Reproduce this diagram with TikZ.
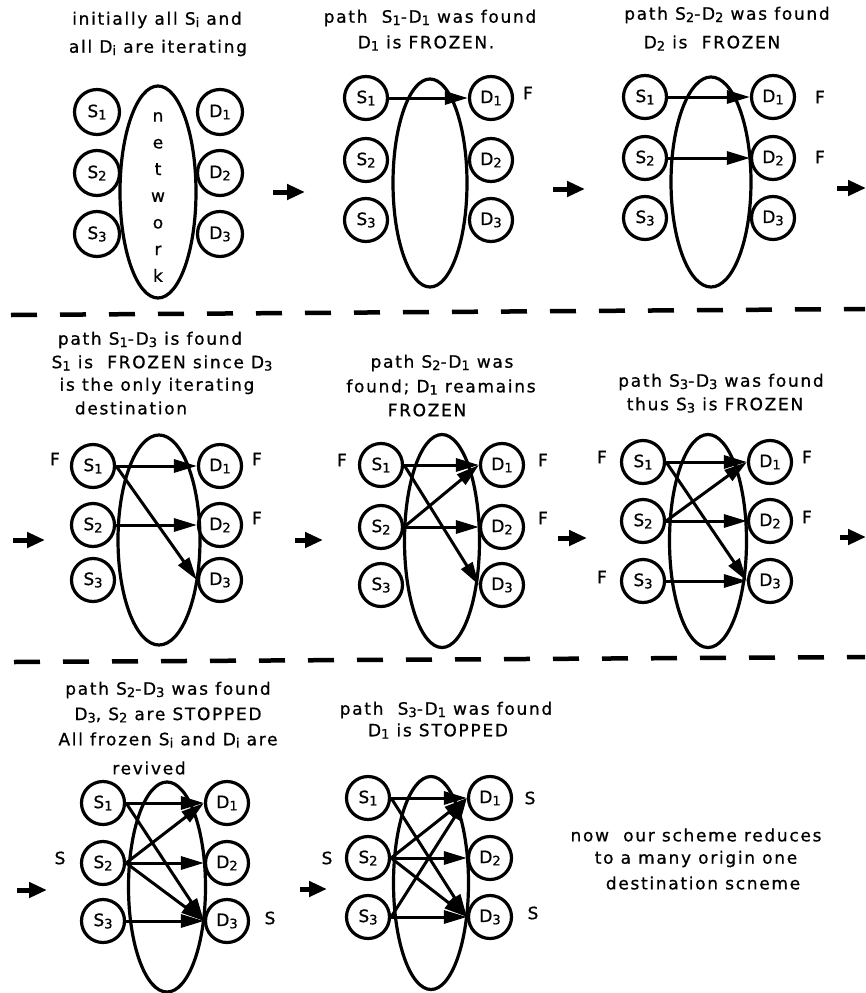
\documentclass[tikz,border=0pt]{standalone}
\usepackage{fontspec}
\setmainfont{DejaVu Sans}[LetterSpace=10,FakeBold=0.8]
\usetikzlibrary{arrows.meta,shapes.geometric}
\newcommand\ix[1]{\raisebox{-0.25ex}{\fontsize{13}{14}\selectfont #1}}
% prefix, S x, D x, row1, row2, row3, circle size
\newcommand\mkpanel[7]{%
 \node[sd,minimum size=#7] (#1S1) at (#2,#4) {S\ix{1}};
 \node[sd,minimum size=#7] (#1S2) at (#2,#5) {S\ix{2}};
 \node[sd,minimum size=#7] (#1S3) at (#2,#6) {S\ix{3}};
 \node[sd,minimum size=#7] (#1D1) at (#3,#4) {D\ix{1}};
 \node[sd,minimum size=#7] (#1D2) at (#3,#5) {D\ix{2}};
 \node[sd,minimum size=#7] (#1D3) at (#3,#6) {D\ix{3}};}
\tikzset{
 sd/.style={circle, draw, line width=3.2pt, inner sep=0pt},
 net/.style={ellipse, draw, line width=3.2pt, inner sep=0pt},
 lbl/.style={inner sep=0pt},
 arr/.style={line width=3pt, -{Triangle[length=23pt,width=13pt]}},
 link/.style={line width=5pt, -{Triangle[length=18pt,width=15pt]}},
 dashline/.style={line width=4.5pt, dash pattern=on 26pt off 23pt}
}
\begin{document}
\begin{tikzpicture}[x=1pt,y=-1pt, every node/.style={font=\fontsize{17}{20}\selectfont}]
\useasboundingbox (0,0) rectangle (865,993);

% ---------------- Panel 1
\node[lbl] (t1a) at (157,20) {initially all S\ix{i} and};
\node[lbl] (t1b) at (158,48) {all D\ix{i} are iterating};
\mkpanel{p1}{97}{220}{112}{173}{234}{45pt}
\node[net, minimum width=76pt, minimum height=212pt] (p1E) at (158,192) {};
\node[lbl, align=center, font=\fontsize{17}{26.7}\selectfont] (p1net) at (158,197) {n\\e\\t\\w\\o\\r\\k};

% ---------------- Panel 2
\node[lbl] (t2a) at (430,18) {path\ \ S\ix{1}-D\ix{1} was found};
\node[lbl] (t2b) at (426,43) {D\ix{1} is FROZEN.};
\mkpanel{p2}{366}{491}{98}{160}{220}{43pt}
\node[net, minimum width=74pt, minimum height=208pt] (p2E) at (430,183) {};
\node[lbl] (p2F1) at (528,93) {F};
\draw[arr] (p2S1.east) -- (p2D1.west);

% ---------------- Panel 3
\node[lbl] (t3a) at (727,15) {path S\ix{2}-D\ix{2} was found};
\node[lbl] (t3b) at (712,43) {D\ix{2} is\ \ FROZEN};
\mkpanel{p3}{645}{773}{97}{158}{218}{43pt}
\node[net, minimum width=80pt, minimum height=210pt] (p3E) at (711,182) {};
\node[lbl] (p3F1) at (820,97) {F};
\node[lbl] (p3F2) at (820,157) {F};
\draw[arr] (p3S1.east) -- (p3D1.west);
\draw[arr] (p3S2.east) -- (p3D2.west);

% ---------------- Panel 4
\node[lbl] (t4a) at (150,340) {path S\ix{1}-D\ix{3} is found};
\node[lbl] (t4b) at (162,363) {S\ix{1} is\ \ FROZEN since D\ix{3}};
\node[lbl] (t4c) at (157,386) {is the only iterating};
\node[lbl] (t4d) at (131,408) {destination};
\mkpanel{p4}{93}{220}{466}{525}{580}{43pt}
\node[net, minimum width=82pt, minimum height=210pt] (p4E) at (159,540) {};
\node[lbl] (p4F1) at (55,459) {F};
\node[lbl] (p4F2) at (257,459) {F};
\node[lbl] (p4F3) at (257,518) {F};
\draw[arr] (p4S1.east) -- (p4D1.west);
\draw[arr] (p4S1.east) -- (p4D3.west);
\draw[arr] (p4S2.east) -- (p4D2.west);

% ---------------- Panel 5
\node[lbl] (t5a) at (442,363) {path S\ix{2}-D\ix{1} was};
\node[lbl] (t5b) at (441,387) {found; D\ix{1} reamains};
\node[lbl] (t5c) at (427,410) {FROZEN};
\mkpanel{p5}{381}{502}{465}{527}{585}{43pt}
\node[net, minimum width=75pt, minimum height=213pt] (p5E) at (442,541) {};
\node[lbl] (p5F1) at (342,460) {F};
\node[lbl] (p5F2) at (543,460) {F};
\node[lbl] (p5F3) at (543,518) {F};
\draw[arr] (p5S1.east) -- (p5D1.west);
\draw[arr] (p5S2.east) -- (p5D1.west);
\draw[arr] (p5S1.east) -- (p5D3.west);
\draw[arr] (p5S2.east) -- (p5D2.west);

% ---------------- Panel 6
\node[lbl] (t6a) at (721,382) {path S\ix{3}-D\ix{3} was found};
\node[lbl] (t6b) at (715,405) {thus S\ix{3} is FROZEN};
\mkpanel{p6}{643}{770}{462}{521}{581}{43pt}
\node[net, minimum width=77pt, minimum height=213pt] (p6E) at (708,541) {};
\node[lbl] (p6F1) at (602,457) {F};
\node[lbl] (p6F2) at (807,457) {F};
\node[lbl] (p6F3) at (807,517) {F};
\node[lbl] (p6F4) at (602,577) {F};
\draw[arr] (p6S1.east) -- (p6D1.west);
\draw[arr] (p6S2.east) -- (p6D1.west);
\draw[arr] (p6S1.east) -- (p6D3.west);
\draw[arr] (p6S2.east) -- (p6D2.west);
\draw[arr] (p6S3.east) -- (p6D3.west);

% ---------------- Panel 7
\node[lbl] (t7a) at (168,690) {path S\ix{2}-D\ix{3} was found};
\node[lbl] (t7b) at (168,715) {D\ix{3}, S\ix{2} are STOPPED};
\node[lbl] (t7c) at (168,740) {All frozen S\ix{i} and D\ix{i} are};
\node[lbl] (t7d) at (149,768) {revived};
\mkpanel{p7}{103}{227}{803}{863}{921}{43pt}
\node[net, minimum width=77pt, minimum height=210pt] (p7E) at (167,887) {};
\node[lbl] (p7L1) at (60,858) {S};
\node[lbl] (p7L2) at (270,918) {S};
\draw[arr] (p7S1.east) -- (p7D1.west);
\draw[arr] (p7S2.east) -- (p7D1.west);
\draw[arr] (p7S1.east) -- (p7D3.west);
\draw[arr] (p7S2.east) -- (p7D2.west);
\draw[arr] (p7S2.east) -- (p7D3.west);
\draw[arr] (p7S3.east) -- (p7D3.west);

% ---------------- Panel 8
\node[lbl] (t8a) at (446,710) {path\ \ S\ix{3}-D\ix{1} was found};
\node[lbl] (t8b) at (438,731) {D\ix{1} is STOPPED};
\mkpanel{p8}{368}{490}{798}{858}{917}{43pt}
\node[net, minimum width=75pt, minimum height=213pt] (p8E) at (431,883) {};
\node[lbl] (p8L1) at (530,798) {S};
\node[lbl] (p8L2) at (327,858) {S};
\node[lbl] (p8L3) at (533,913) {S};
\draw[arr] (p8S1.east) -- (p8D1.west);
\draw[arr] (p8S2.east) -- (p8D1.west);
\draw[arr] (p8S3.east) -- (p8D1.west);
\draw[arr] (p8S1.east) -- (p8D3.west);
\draw[arr] (p8S2.east) -- (p8D2.west);
\draw[arr] (p8S2.east) -- (p8D3.west);
\draw[arr] (p8S3.east) -- (p8D3.west);

% ---------------- closing text
\node[lbl] (r1) at (696,835) {now\ \ our scheme reduces};
\node[lbl] (r2) at (696,859) {to a many origin one};
\node[lbl] (r3) at (703,883) {destination scneme};

% ---------------- step arrows
\coordinate (a1s) at (273,192); \coordinate (a1e) at (305,192);
\coordinate (a2s) at (553,189); \coordinate (a2e) at (585,189);
\coordinate (a3s) at (837,188); \coordinate (a3e) at (866,188);
\coordinate (a4s) at (13,540);  \coordinate (a4e) at (45,540);
\coordinate (a5s) at (295,540); \coordinate (a5e) at (323,540);
\coordinate (a6s) at (558,538); \coordinate (a6e) at (587,538);
\coordinate (a7s) at (840,537); \coordinate (a7e) at (866,537);
\coordinate (a8s) at (17,890);  \coordinate (a8e) at (47,890);
\coordinate (a9s) at (300,889); \coordinate (a9e) at (327,889);
\foreach \k in {1,...,9} {\draw[link] (a\k s) -- (a\k e);}

% ---------------- separators
\coordinate (d1s) at (11,315); \coordinate (d1e) at (865,309);
\coordinate (d2s) at (14,662); \coordinate (d2e) at (865,657);
\draw[dashline] (d1s) -- (d1e);
\draw[dashline] (d2s) -- (d2e);
\end{tikzpicture}
\end{document}
